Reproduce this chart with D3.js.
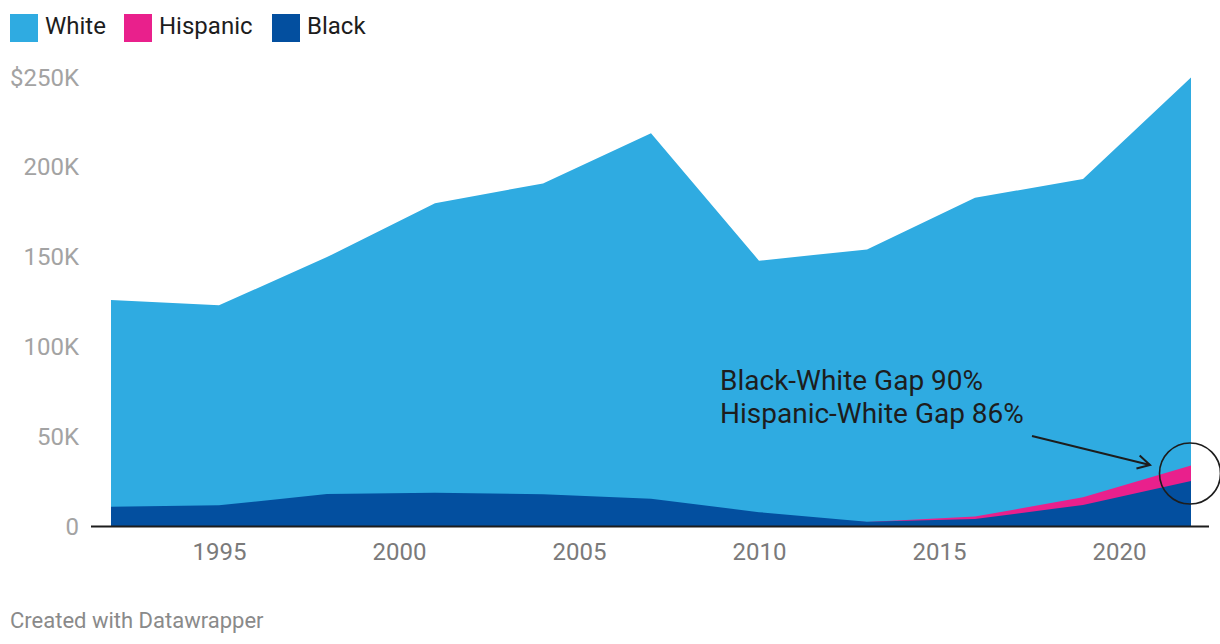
<!DOCTYPE html>
<html>
<head>
<meta charset="utf-8">
<script src="https://cdn.jsdelivr.net/npm/d3@7"></script>
<style>
  html, body { margin: 0; padding: 0; background: #fff; }
  svg { display: block; font-family: Roboto, "Noto Sans", sans-serif; }
</style>
</head>
<body>
<svg id="chart" width="1220" height="644"></svg>
<script>
// ---- data ----
const years    = [1992, 1995, 1998, 2001, 2004, 2007, 2010, 2013, 2016, 2019, 2022];
const white    = [126100, 123200, 150000, 180000, 191000, 219000, 148000, 154300, 183000, 193500, 250000];
const hispanic = [7000, 8500, 12000, 12500, 14000, 13000, 6000, 2500, 5500, 16300, 33900];
const black    = [11000, 11800, 18100, 18800, 18000, 15400, 8000, 2700, 4200, 12000, 25300];
const seriesNames  = ["White", "Hispanic", "Black"];
const seriesColors = ["#2fabe1", "#e9208c", "#034f9f"];
const yTicks = [0, 50000, 100000, 150000, 200000, 250000];
const xTicks = [1995, 2000, 2005, 2010, 2015, 2020];
const annotationLines = ["Black-White Gap 90%", "Hispanic-White Gap 86%"];
const footerText = "Created with Datawrapper";

const seriesValues = [white, hispanic, black];

const svg = d3.select("#chart");
const x = d3.scaleLinear().domain([1992, 2022]).range([111, 1191]);
const y = d3.scaleLinear().domain([0, 250000]).range([526.5, 77.5]);

// areas (overlapping, drawn in order)
const area = d3.area()
  .x((d, i) => x(years[i]))
  .y0(y(0))
  .y1(d => y(d));

svg.append("g").selectAll("path")
  .data(seriesValues)
  .join("path")
  .attr("d", d => area(d))
  .attr("fill", (d, i) => seriesColors[i]);

// y axis labels
const yAxis = d3.axisLeft(y)
  .tickValues(yTicks)
  .tickSize(0)
  .tickPadding(0)
  .tickFormat(d => d === 0 ? "0" : (d === 250000 ? "$" : "") + (d / 1000) + "K");
const gy = svg.append("g").attr("transform", "translate(79,0)").call(yAxis);
gy.select(".domain").remove();
gy.selectAll("text")
  .attr("font-family", "Roboto")
  .attr("font-size", 24)
  .attr("fill", "#a3a3a3");

// x axis labels
const xAxis = d3.axisBottom(x)
  .tickValues(xTicks)
  .tickSize(0)
  .tickPadding(0)
  .tickFormat(d3.format("d"));
const gx = svg.append("g").attr("transform", "translate(0,543)").call(xAxis);
gx.select(".domain").remove();
gx.selectAll("text")
  .attr("font-family", "Roboto")
  .attr("font-size", 24)
  .attr("fill", "#7a7a7a");

// baseline
svg.append("line")
  .attr("x1", 91).attr("x2", 1209)
  .attr("y1", y(0)).attr("y2", y(0))
  .attr("stroke", "#1d1d1d").attr("stroke-width", 2);

// legend
const legend = svg.append("g");
const legendX = [10, 124, 272];
seriesNames.forEach((name, i) => {
  legend.append("rect")
    .attr("x", legendX[i]).attr("y", 14)
    .attr("width", 28).attr("height", 28)
    .attr("fill", seriesColors[i]);
  legend.append("text")
    .attr("x", legendX[i] + 35).attr("y", 34)
    .attr("font-size", 24)
    .attr("fill", "#1d1d1d")
    .text(name);
});

// annotation
const ann = svg.append("g");
annotationLines.forEach((t, i) => {
  ann.append("text")
    .attr("x", 720).attr("y", 390 + i * 33)
    .attr("font-size", 28)
    .attr("fill", "#1d1d1d")
    .text(t);
});
ann.append("line")
  .attr("x1", 1032).attr("y1", 436)
  .attr("x2", 1150).attr("y2", 465)
  .attr("stroke", "#1d1d1d").attr("stroke-width", 2);
// arrowhead (open chevron)
const ang = Math.atan2(465 - 436, 1150 - 1032);
const ah = 14, spread = 0.5;
ann.append("path")
  .attr("d", `M${1150 - ah * Math.cos(ang - spread)},${465 - ah * Math.sin(ang - spread)} L1150,465 L${1150 - ah * Math.cos(ang + spread)},${465 - ah * Math.sin(ang + spread)}`)
  .attr("fill", "none").attr("stroke", "#1d1d1d").attr("stroke-width", 2);
ann.append("circle")
  .attr("cx", 1190).attr("cy", 473.5).attr("r", 30.5)
  .attr("fill", "none").attr("stroke", "#1d1d1d").attr("stroke-width", 1.6);

// footer
svg.append("text")
  .attr("x", 10).attr("y", 628)
  .attr("font-size", 22)
  .attr("fill", "#8a8a8a")
  .text(footerText);
</script>
</body>
</html>
